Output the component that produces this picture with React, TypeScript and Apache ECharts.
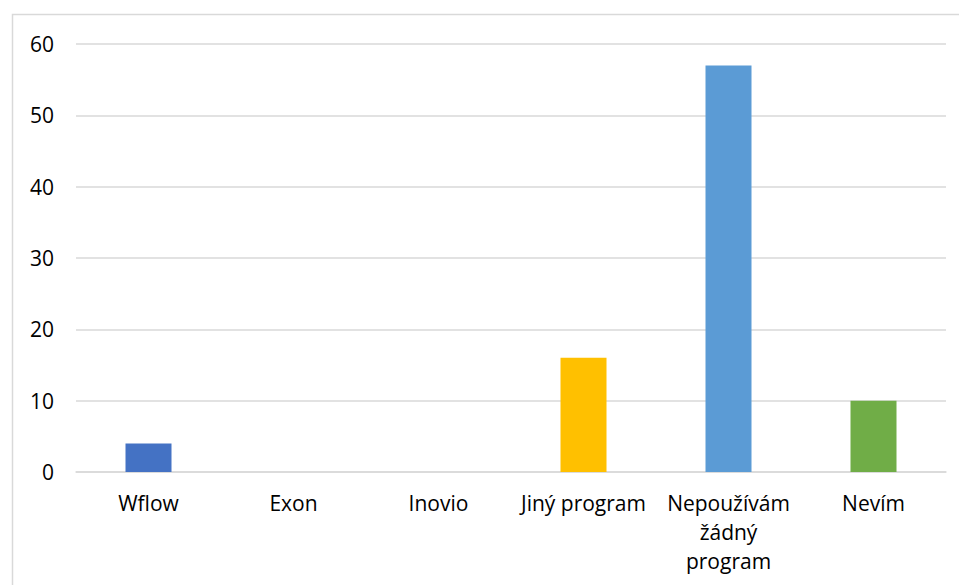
import React, { useEffect, useRef } from "react";
import * as echarts from "echarts";

const categories = ["Wflow", "Exon", "Inovio", "Jiný program", "Nepoužívám žádný program", "Nevím"];
const values = [4, 0, 0, 16, 57, 10];
const barColors = ["#4472C4", "#ED7D31", "#A5A5A5", "#FFC000", "#5B9BD5", "#70AD47"];
const yTicks = { min: 0, max: 60, interval: 10 };

export default function App() {
  const ref = useRef<HTMLDivElement>(null);
  useEffect(() => {
    if (!ref.current) return;
    const chart = echarts.init(ref.current, null, { renderer: "svg" });
    const font = "'Open Sans', 'Liberation Sans', sans-serif";
    chart.setOption({
      animation: false,
      backgroundColor: "#ffffff",
      textStyle: { fontFamily: font },
      graphic: [
        {
          type: "rect",
          shape: { x: 12.5, y: 14.5, width: 1000, height: 1000 },
          style: { fill: "none", stroke: "#D9D9D9", lineWidth: 1.5 },
          silent: true,
        },
      ],
      grid: { left: 76, right: 13, top: 44, bottom: 113, containLabel: false },
      xAxis: {
        type: "category",
        data: categories,
        axisLine: { show: true, lineStyle: { color: "#D9D9D9", width: 1.5 } },
        axisTick: { show: false },
        axisLabel: {
          color: "#000",
          fontSize: 21,
          fontFamily: font,
          margin: 16,
          lineHeight: 29,
          interval: 0,
          formatter: (v: string) =>
            v === "Nepoužívám žádný program" ? "Nepoužívám\nžádný\nprogram" : v,
        },
      },
      yAxis: {
        type: "value",
        min: yTicks.min,
        max: yTicks.max,
        interval: yTicks.interval,
        axisLine: { show: false },
        axisTick: { show: false },
        axisLabel: { color: "#000", fontSize: 21, fontFamily: font, margin: 22 },
        splitLine: { lineStyle: { color: "#D9D9D9", width: 1.5 } },
      },
      series: [
        {
          type: "bar",
          barWidth: 46,
          data: values.map((v, i) => ({ value: v, itemStyle: { color: barColors[i] } })),
        },
      ],
    });
    return () => chart.dispose();
  }, []);
  return (
    <div
      ref={ref}
      style={{ position: "absolute", left: 0, top: 0, width: 959, height: 585 }}
    />
  );
}
